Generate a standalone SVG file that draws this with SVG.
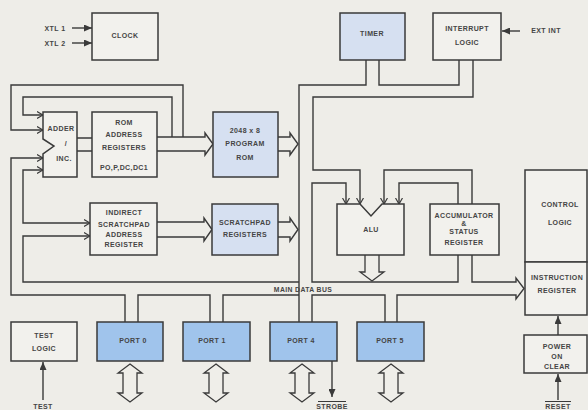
<svg xmlns="http://www.w3.org/2000/svg" width="588" height="410" viewBox="0 0 588 410">
<defs>
<style>
.bx{fill:#f2f1ed;stroke:#3a3a3a;stroke-width:1.5}
.lb{fill:#d6e0f1;stroke:#3a3a3a;stroke-width:1.5}
.pt{fill:#a0c4ec;stroke:#3a3a3a;stroke-width:1.5}
.ln{fill:none;stroke:#3a3a3a;stroke-width:1.4}
.ha{fill:#efeee9;stroke:#3a3a3a;stroke-width:1.3}
text{font-family:"Liberation Sans",Arial,sans-serif;font-size:7px;font-weight:bold;fill:#454545;text-anchor:middle;letter-spacing:0.4px}
.sm{font-size:6.8px}
</style>
<marker id="fa" markerWidth="8" markerHeight="7" refX="8" refY="3.5" orient="auto" markerUnits="userSpaceOnUse"><path d="M0,0 L8,3.5 L0,7 Z" fill="#3a3a3a"/></marker>
<marker id="oa" markerWidth="7" markerHeight="8" refX="6" refY="4" orient="auto" markerUnits="userSpaceOnUse"><path d="M0,0.5 L6,4 L0,7.5" fill="none" stroke="#3a3a3a" stroke-width="1.2"/></marker>
</defs>
<rect width="588" height="410" fill="#eeede8"/>

<g id="connectors">
<text x="55" y="30.5">XTL 1</text>
<text x="55" y="45.5">XTL 2</text>
<path class="ln" d="M72,28 H92" marker-end="url(#fa)"/>
<path class="ln" d="M72,43 H92" marker-end="url(#fa)"/>
<path class="ln" d="M520,31 H502" marker-end="url(#fa)"/>
<text x="546" y="33">EXT INT</text>
<path class="ln" d="M183,137 V85 H11 V130 H43" marker-end="url(#oa)"/>
<path class="ln" d="M172,137 V97 H23 V115 H43" marker-end="url(#oa)"/>
<path class="ln" d="M125,322 V295 H11 V158 H43" marker-end="url(#oa)"/>
<path class="ln" d="M23,196 V170 H43" marker-end="url(#oa)"/>
<path class="ln" d="M23,196 V223 H90" marker-end="url(#oa)"/>
<path class="ln" d="M299,282 H23 V236 H90" marker-end="url(#oa)"/>
<path class="ln" d="M77,138 H92 M77,151 H92"/>
<path class="ln" d="M157,137 H205 V133 L213,144 L205,155 V151 H157"/>
<path class="ln" d="M278,137 H290 V133 L298,144 L290,155 V151 H278"/>
<path class="ln" d="M157,222 H204 V218 L212,229.5 L204,241 V237 H157"/>
<path class="ln" d="M278,222 H290 V218 L298,229.5 L290,241 V237 H278"/>
<path class="ln" d="M366,60 V85 H299 V322"/>
<path class="ln" d="M379,60 V85 H459 V60"/>
<path class="ln" d="M473,60 V97 H313 V170 H360 V204" marker-end="url(#oa)"/>
<path class="ln" d="M458,255 V282 H312 V183 H346 V204" marker-end="url(#oa)"/>
<path class="ln" d="M472,204 V170 H384 V204" marker-end="url(#oa)"/>
<path class="ln" d="M458,204 V183 H399 V204" marker-end="url(#oa)"/>
<path class="ln" d="M472,255 V282 H516 V278 L524,288.5 L516,299 V295 H397 V322"/>
<path class="ln" d="M138,322 V295 H210 V322"/>
<path class="ln" d="M223,322 V295 H299"/>
<path class="ln" d="M312,322 V295 H385 V322"/>
<path class="ha" d="M365,255 V272 H360 L372,281 L384,272 H379 V255"/>
<text class="sm" x="303" y="291.5">MAIN DATA BUS</text>
<path class="ha" d="M130,364 L142,373 H137 V393 H142 L130,402 L118,393 H123 V373 H118 Z"/>
<path class="ha" d="M216,364 L228,373 H223 V393 H228 L216,402 L204,393 H209 V373 H204 Z"/>
<path class="ha" d="M302,364 L314,373 H309 V393 H314 L302,402 L290,393 H295 V373 H290 Z"/>
<path class="ha" d="M391,364 L403,373 H398 V393 H403 L391,402 L379,393 H384 V373 H379 Z"/>
<path class="ln" d="M332,361 V397" marker-end="url(#fa)"/>
<line x1="318" y1="401.5" x2="346" y2="401.5" stroke="#3a3a3a" stroke-width="1"/>
<text x="332" y="409">STROBE</text>
<path class="ln" d="M43,400 V362" marker-end="url(#fa)"/>
<text x="43" y="409">TEST</text>
<path class="ln" d="M558,400 V374" marker-end="url(#fa)"/>
<line x1="545" y1="401.5" x2="571" y2="401.5" stroke="#3a3a3a" stroke-width="1"/>
<text x="558" y="409">RESET</text>
<path class="ln" d="M558,335 V316" marker-end="url(#fa)"/>
</g>

<g id="clock"><rect class="bx" x="92" y="13" width="66" height="47"/><text x="125" y="38">CLOCK</text></g>
<g id="timer"><rect class="lb" x="340" y="13" width="65" height="47"/><text x="372" y="36">TIMER</text></g>
<g id="interrupt"><rect class="bx" x="433" y="13" width="68" height="47"/><text x="467" y="30.5">INTERRUPT</text><text x="467" y="44.5">LOGIC</text></g>
<g id="adder"><path class="bx" d="M43,112 H77 V177 H43 V154 L54,146 L43,139 Z"/><text x="61" y="130.5">ADDER</text><text x="66" y="146">/</text><text x="64" y="160.5">INC.</text></g>
<g id="romaddr"><rect class="bx" x="92" y="112" width="65" height="65"/><text x="124" y="125">ROM</text><text x="124" y="136.5">ADDRESS</text><text x="124" y="149.5">REGISTERS</text><text x="124" y="169.5">PO,P,DC,DC1</text></g>
<g id="rom"><rect class="lb" x="213" y="112" width="65" height="65"/><text x="245" y="132.5">2048 x 8</text><text x="245" y="146">PROGRAM</text><text x="245" y="160">ROM</text></g>
<g id="isar"><rect class="bx" x="90" y="203" width="67" height="52"/><text x="124" y="215">INDIRECT</text><text x="124" y="226.5">SCRATCHPAD</text><text x="124" y="237">ADDRESS</text><text x="124" y="247">REGISTER</text></g>
<g id="scratchpad"><rect class="lb" x="212" y="204" width="66" height="51"/><text x="245" y="224.5">SCRATCHPAD</text><text x="245" y="236.5">REGISTERS</text></g>
<g id="alu"><path class="bx" d="M337,204 H360 L371,216 L382,204 H404 V255 H337 Z"/><text x="371" y="232">ALU</text></g>
<g id="acc"><rect class="bx" x="430" y="204" width="69" height="51"/><text x="464" y="218" letter-spacing="0">ACCUMULATOR</text><text x="464" y="226">&amp;</text><text x="464" y="234">STATUS</text><text x="464" y="244.5">REGISTER</text></g>
<g id="control"><rect class="bx" x="525" y="170" width="62" height="92"/><text x="560" y="206.5">CONTROL</text><text x="560" y="224.5">LOGIC</text></g>
<g id="ir"><rect class="bx" x="525" y="262" width="62" height="53"/><text x="557" y="279.5" letter-spacing="0">INSTRUCTION</text><text x="557" y="292.5">REGISTER</text></g>
<g id="test"><rect class="bx" x="11" y="322" width="66" height="39"/><text x="44" y="337.5">TEST</text><text x="44" y="350.5">LOGIC</text></g>
<g id="port0"><rect class="pt" x="97" y="322" width="66" height="39"/><text x="133" y="343">PORT 0</text></g>
<g id="port1"><rect class="pt" x="183" y="322" width="67" height="39"/><text x="212" y="343">PORT 1</text></g>
<g id="port4"><rect class="pt" x="270" y="322" width="67" height="39"/><text x="301" y="343">PORT 4</text></g>
<g id="port5"><rect class="pt" x="357" y="322" width="67" height="39"/><text x="390" y="343">PORT 5</text></g>
<g id="poc"><rect class="bx" x="524" y="335" width="63" height="38"/><text x="557" y="348.5">POWER</text><text x="557" y="358.5">ON</text><text x="557" y="368.5">CLEAR</text></g>
</svg>
